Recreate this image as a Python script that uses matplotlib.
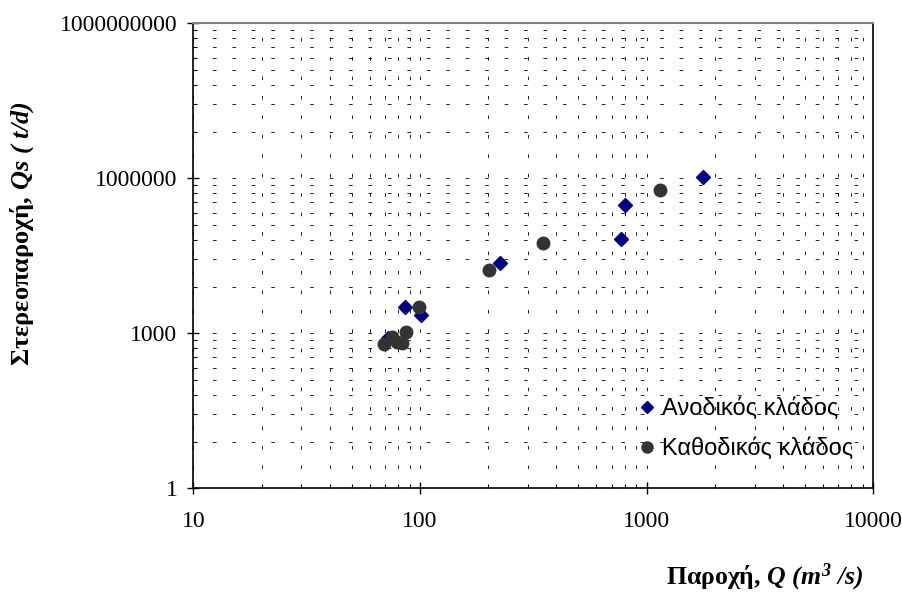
import matplotlib
matplotlib.use('Agg')
import matplotlib.pyplot as plt
from matplotlib.lines import Line2D

# rising limb (Ανοδικός κλάδος)
rising_q = [72.4, 85.9, 101, 225, 771, 802, 1778]
rising_qs = [800, 3270, 2260, 22900, 65900, 304000, 1045000]

# falling limb (Καθοδικός κλάδος)
falling_q = [69.5, 75.0, 78.9, 83.0, 86.7, 99.3, 201, 349, 1146]
falling_qs = [621, 859, 687, 658, 1074, 3185, 16800, 55900, 593000]

x_ticks = [10, 100, 1000, 10000]
x_labels = ['10', '100', '1000', '10000']
y_ticks = [1, 1e3, 1e6, 1e9]
y_labels = ['1', '1000', '1000000', '1000000000']

plt.rcParams['lines.scale_dashes'] = False
plt.rcParams['mathtext.fontset'] = 'custom'
plt.rcParams['mathtext.it'] = 'Liberation Serif:italic:bold'
plt.rcParams['mathtext.rm'] = 'Liberation Serif:italic:bold'
plt.rcParams['mathtext.bf'] = 'Liberation Serif:italic:bold'

fig = plt.figure(figsize=(9.02, 5.92), dpi=100)
ax = fig.add_axes([193.3 / 902, 1 - 488.3 / 592, 680 / 902, 465 / 592])
ax.set_xscale('log')
ax.set_yscale('log')
ax.set_xlim(10, 10000)
ax.set_ylim(1, 1e9)

# excel style minor positions: x at k*10^n, y at k^3*1000^n
x_minor = [k * 10 ** n for n in range(1, 4) for k in range(2, 10)]
y_minor = [k ** 3 * 1000 ** n for n in range(3) for k in range(2, 10)]
ax.set_xticks(x_ticks)
ax.set_xticklabels(x_labels)
ax.set_xticks(x_minor, minor=True)
ax.set_xticklabels([], minor=True)
ax.set_yticks(y_ticks)
ax.set_yticklabels(y_labels)
ax.set_yticks(y_minor, minor=True)
ax.set_yticklabels([], minor=True)

grid_style = dict(color='black', linewidth=0.6, linestyle=(0, (2.6, 11.4)))
ax.xaxis.grid(True, which='both', **grid_style)
ax.yaxis.grid(True, which='both', **grid_style)
ax.set_axisbelow(True)

ax.tick_params(which='major', direction='inout', length=9, width=1,
               labelsize=17, pad=7)
ax.tick_params(which='minor', direction='in', length=3, width=0.8)
ax.tick_params(axis='x', which='major', pad=12)
for lab in ax.get_xticklabels() + ax.get_yticklabels():
    lab.set_fontfamily('Liberation Serif')

for side in ['left', 'bottom', 'right']:
    ax.spines[side].set_color('black')
    ax.spines[side].set_linewidth(1.2)
ax.spines['top'].set_color('#808080')
ax.spines['top'].set_linewidth(1.5)

ax.plot(rising_q, rising_qs, linestyle='none', marker='D', markersize=7.5,
        color='#000080', zorder=3)
ax.plot(falling_q, falling_qs, linestyle='none', marker='o', markersize=9,
        color='#333333', zorder=4)

handles = [Line2D([], [], linestyle='none', marker='D', markersize=6.5, color='#000080'),
           Line2D([], [], linestyle='none', marker='o', markersize=8, color='#333333')]
fig.legend(handles, ['Ανοδικός κλάδος', 'Καθοδικός κλάδος'], loc='center left',
           bbox_to_anchor=(640 / 902, 1 - 429 / 592), frameon=False,
           prop={'family': 'Liberation Sans', 'size': 17},
           handlelength=0.6, handletextpad=0.35, labelspacing=0.75,
           borderaxespad=0, borderpad=0)

fig.text(22 / 902, 1 - 234 / 592, r'Στερεοπαροχή, $Qs\ (\ t/d)$', rotation=90,
         ha='center', va='center', family='Liberation Serif', weight='bold',
         fontsize=19)
fig.text(765 / 902, 1 - 577 / 592, r'Παροχή, $Q\ (m^3\ /s)$', ha='center',
         va='center', family='Liberation Serif', weight='bold', fontsize=18.5)

fig.savefig('out.png', dpi=100)
